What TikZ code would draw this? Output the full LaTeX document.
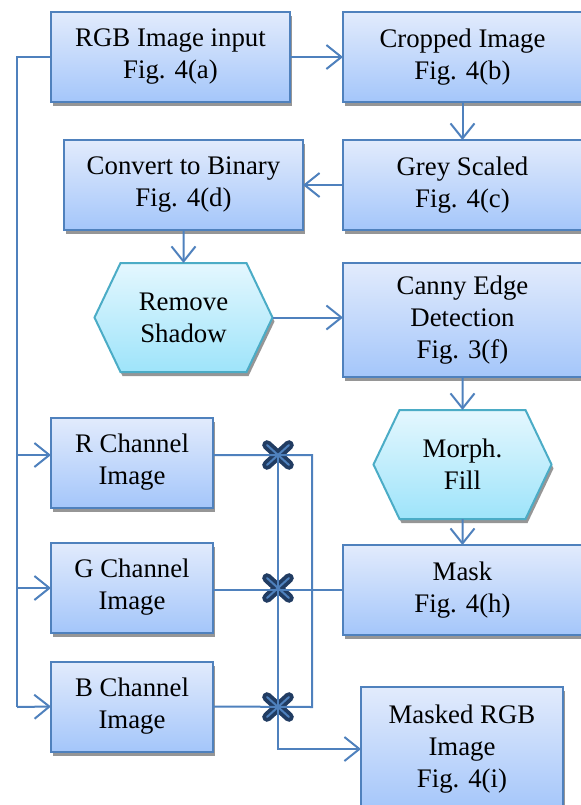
\documentclass[tikz,border=0pt]{standalone}
\usepackage{fontspec}
\setmainfont{Liberation Serif}
\usetikzlibrary{
    positioning, % Posicionamento relativo dos nós
    arrows.meta, % Pontas de seta
    shapes.symbols, % Forma signal (hexágono)
    shapes.misc, % Forma cross out (multiplicação)
    shadows
}
\definecolor{boxtop}{RGB}{226,235,252}
\definecolor{boxbot}{RGB}{164,198,250}
\definecolor{boxline}{RGB}{79,129,189}
\definecolor{hextop}{RGB}{228,247,254}
\definecolor{hexbot}{RGB}{158,228,250}
\definecolor{hexline}{RGB}{75,172,198}
\definecolor{multdark}{RGB}{33,60,98}
\definecolor{shadowgray}{RGB}{150,150,150}

\begin{document}
\begin{tikzpicture}[x=0.5pt, y=-0.5pt, node distance=16.5pt]

    % --- Definição de Estilos ---
    \tikzset{
        % Caixas retangulares com degradê
        flow_box/.style={
            draw=boxline,
            line width=1pt,
            rectangle,
            top color=boxtop,
            bottom color=boxbot,
            minimum width=119.5pt,
            minimum height=45pt,
            inner sep=2pt,
            outer sep=0pt,
            align=center,
            font=\fontsize{13.4}{16}\selectfont,
            drop shadow={shadow xshift=1pt, shadow yshift=-2pt, fill=shadowgray, opacity=1}
        },
        % Caixas dos canais de cor
        chan_box/.style={flow_box, minimum width=81pt},
        % Hexágonos de processamento
        hex_box/.style={
            flow_box,
            shape=signal,
            signal to=east and west,
            signal pointer angle=129,
            draw=hexline,
            top color=hextop,
            bottom color=hexbot,
            minimum width=89pt,
            minimum height=54.5pt
        },
        % Multiplicação
        mult_node/.style={
            cross out,
            draw=multdark,
            line width=4.8pt,
            line cap=round,
            minimum width=11pt,
            minimum height=10pt,
            inner sep=0pt,
            outer sep=0pt,
            postaction={draw=boxline, line width=1pt}
        },
        % Setas e linhas
        flow_arrow/.style={
            -{Straight Barb[length=7.5pt, width=12pt]},
            line width=1pt,
            draw=boxline
        },
        flow_line/.style={line width=1pt, draw=boxline}
    }

    \useasboundingbox (0,0) rectangle (580,805);

    % --- Nós principais ---
    \node[flow_box] (rgb_in) at (170.5,57) {RGB Image input\\Fig. 4(a)};
    \node[flow_box, right=26.5pt of rgb_in] (cropped) {Cropped Image\\Fig. 4(b)};
    \node[flow_box, below=19pt of cropped] (grey) {Grey Scaled\\Fig. 4(c)};
    \node[flow_box, left=20pt of grey] (binary) {Convert to Binary\\Fig. 4(d)};
    \node[hex_box, below=of binary] (shadow) {Remove\\Shadow};
    \node[flow_box, below=of grey, minimum height=57pt] (canny) {Canny Edge\\Detection\\Fig. 3(f)};
    \node[hex_box, below=of canny] (morph) {Morph.\\Fill};
    \node[flow_box, below=13pt of morph] (mask) {Mask\\Fig. 4(h)};

    % --- Canais de cor ---
    \node[chan_box] (r_chan) at (132,462.5) {R Channel\\Image};
    \node[chan_box, below=17.5pt of r_chan] (g_chan) {G Channel\\Image};
    \node[chan_box, below=14.5pt of g_chan] (b_chan) {B Channel\\Image};

    \node[flow_box, minimum width=101pt, minimum height=62pt] (masked) at (462,749) {Masked RGB\\Image\\Fig. 4(i)};

    % --- Multiplicações ---
    \node[mult_node] (xr) at (278,455) {};
    \node[mult_node] (xg) at (278,588) {};
    \node[mult_node] (xb) at (278,707) {};

    \coordinate (bus_end) at (17,707);
    \coordinate (tap_top) at (312,455);
    \coordinate (tap_bot) at (312,707);

    % --- Setas ---
    \draw[flow_arrow] (rgb_in) -- (cropped);
    \draw[flow_arrow] (cropped) -- (grey);
    \draw[flow_arrow] (grey) -- (binary);
    \draw[flow_arrow] (binary) -- (shadow);
    \draw[flow_arrow] (shadow.east) -- (canny.west |- shadow.east);
    \draw[flow_arrow] (canny) -- (morph);
    \draw[flow_arrow] (morph) -- (mask);

    \draw[flow_line] (rgb_in.west) -| (bus_end);
    \draw[flow_arrow] (bus_end |- xr) -- (r_chan.west |- xr);
    \draw[flow_arrow] (bus_end |- xg) -- (g_chan.west |- xg);
    \draw[flow_arrow] (bus_end) -- (b_chan.west);

    \draw[flow_line] (r_chan.east |- xr) -- (tap_top) -- (tap_bot) -- (b_chan.east);
    \draw[flow_line] (mask.west) -- (g_chan.east |- mask.west);
    \draw[flow_arrow] (xr.center) |- (masked.west);

\end{tikzpicture}
\end{document}
